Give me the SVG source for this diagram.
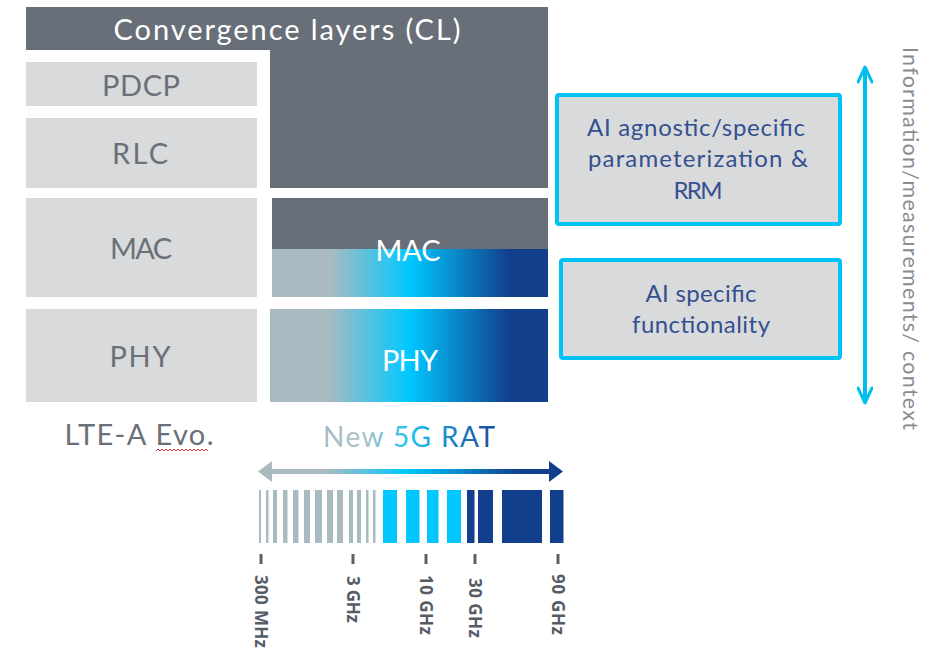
<svg xmlns="http://www.w3.org/2000/svg" width="927" height="651" viewBox="0 0 927 651">
  <defs>
    <linearGradient id="ratGrad" x1="0" y1="0" x2="1" y2="0">
      <stop offset="0" stop-color="#a9bbc1"/>
      <stop offset="0.21" stop-color="#a9bbc1"/>
      <stop offset="0.5" stop-color="#00c8ff"/>
      <stop offset="0.86" stop-color="#123f8c"/>
      <stop offset="1" stop-color="#123f8c"/>
    </linearGradient>
    <linearGradient id="arrowGrad" gradientUnits="userSpaceOnUse" x1="258" y1="0" x2="563" y2="0">
      <stop offset="0" stop-color="#a9bbc1"/>
      <stop offset="0.22" stop-color="#a9bbc1"/>
      <stop offset="0.49" stop-color="#00c8ff"/>
      <stop offset="0.86" stop-color="#123f8c"/>
      <stop offset="1" stop-color="#123f8c"/>
    </linearGradient>
    <linearGradient id="titleGrad" gradientUnits="userSpaceOnUse" x1="323" y1="0" x2="496" y2="0">
      <stop offset="0" stop-color="#a9bbc1"/>
      <stop offset="0.25" stop-color="#a9c0c8"/>
      <stop offset="0.5" stop-color="#1ec2f2"/>
      <stop offset="0.7" stop-color="#1e8fd0"/>
      <stop offset="1" stop-color="#1e4a9a"/>
    </linearGradient>
    <marker id="chev" viewBox="0 0 20 16" refX="17" refY="8" markerWidth="5" markerHeight="4" orient="auto-start-reverse" markerUnits="strokeWidth">
      <path d="M2,1 L17,8 L2,15" fill="none" stroke="#00bfef" stroke-width="3" stroke-linecap="round" stroke-linejoin="round"/>
    </marker>
  </defs>
  <style>
    .light { fill: #d9dadb; }
    .dark { fill: #686f78; }
    .lbl { font-family: "Lato", "Open Sans", "Liberation Sans", sans-serif; font-size: 29px; fill: #6b7078; text-anchor: middle; }
    .wlbl { font-family: "Lato", "Open Sans", "Liberation Sans", sans-serif; font-size: 29px; fill: #ffffff; text-anchor: middle; }
    .ai { fill: #d9dadb; stroke: #00c3f5; stroke-width: 4; }
    .aitxt { font-family: "Lato", "Open Sans", "Liberation Sans", sans-serif; font-size: 24px; fill: #34508f; text-anchor: middle; }
    .bar-g { fill: #a9bbc1; }
    .bar-c { fill: #00c8ff; }
    .bar-n { fill: #123f8c; }
    .tick { stroke: #5a6068; stroke-width: 3; }
    .freq { font-family: "Noto Sans", "DejaVu Sans", sans-serif; font-size: 17px; font-weight: bold; fill: #555c66; }
  </style>

  <!-- Convergence layers block -->
  <g id="cl">
    <path class="dark" d="M26,7 H548 V188 H270 V50 H26 Z"/>
    <text x="287" y="40" class="wlbl" font-size="33" textLength="347" lengthAdjust="spacing">Convergence layers (CL)</text>
  </g>

  <!-- LTE-A Evo. stack -->
  <g id="pdcp">
    <rect class="light" x="26" y="62" width="231" height="44"/>
    <text x="141" y="96" class="lbl" textLength="78" lengthAdjust="spacing">PDCP</text>
  </g>
  <g id="rlc">
    <rect class="light" x="26" y="118" width="231" height="70"/>
    <text x="140" y="164" class="lbl" textLength="56" lengthAdjust="spacing">RLC</text>
  </g>
  <g id="mac-lte">
    <rect class="light" x="26" y="198" width="231" height="99"/>
    <text x="141" y="259" class="lbl" textLength="62" lengthAdjust="spacing">MAC</text>
  </g>
  <g id="phy-lte">
    <rect class="light" x="26" y="309" width="231" height="93"/>
    <text x="140" y="367" class="lbl" textLength="61" lengthAdjust="spacing">PHY</text>
  </g>
  <g id="lte-label">
    <text x="139" y="445" class="lbl" font-size="27" textLength="149" lengthAdjust="spacing">LTE-A Evo.</text>
    <path d="M156,451 l2,-2 l2,2 l2,-2 l2,2 l2,-2 l2,2 l2,-2 l2,2 l2,-2 l2,2 l2,-2 l2,2 l2,-2 l2,2 l2,-2 l2,2 l2,-2 l2,2 l2,-2 l2,2 l2,-2 l2,2 l2,-2 l2,2 l2,-2 l2,2" fill="none" stroke="#e03030" stroke-width="1"/>
  </g>

  <!-- New 5G RAT stack -->
  <g id="mac-5g">
    <rect x="272" y="198" width="276" height="99" fill="url(#ratGrad)"/>
    <rect class="dark" x="272" y="198" width="276" height="51"/>
    <text x="408" y="261" class="wlbl" textLength="65" lengthAdjust="spacing">MAC</text>
  </g>
  <g id="phy-5g">
    <rect x="270" y="309" width="278" height="93" fill="url(#ratGrad)"/>
    <text x="410" y="371" class="wlbl" textLength="56" lengthAdjust="spacing">PHY</text>
  </g>
  <g id="rat-label">
    <text x="409" y="447" font-family="Lato, 'Open Sans', 'Liberation Sans', sans-serif" font-size="28" text-anchor="middle" fill="url(#titleGrad)" textLength="172" lengthAdjust="spacing">New 5G RAT</text>
  </g>

  <!-- AI boxes -->
  <g id="ai-rrm">
    <rect class="ai" x="557" y="95" width="283" height="129" rx="2"/>
    <text x="696" y="136" class="aitxt" textLength="218" lengthAdjust="spacing">AI agnostic/specific</text>
    <text x="698" y="167" class="aitxt" textLength="220" lengthAdjust="spacing">parameterization &amp;</text>
    <text x="698" y="199" class="aitxt" textLength="49" lengthAdjust="spacing">RRM</text>
  </g>
  <g id="ai-func">
    <rect class="ai" x="561" y="260" width="279" height="98" rx="2"/>
    <text x="701" y="302" class="aitxt" textLength="111" lengthAdjust="spacing">AI specific</text>
    <text x="701" y="333" class="aitxt" textLength="138" lengthAdjust="spacing">functionality</text>
  </g>

  <!-- Spectrum bars -->
  <g id="spectrum">
    <rect class="bar-g" x="259" y="490" width="2" height="53"/>
    <rect class="bar-g" x="266" y="490" width="2.5" height="53"/>
    <rect class="bar-g" x="273" y="490" width="4" height="53"/>
    <rect class="bar-g" x="283" y="490" width="4.5" height="53"/>
    <rect class="bar-g" x="293" y="490" width="5.5" height="53"/>
    <rect class="bar-g" x="304" y="490" width="6" height="53"/>
    <rect class="bar-g" x="315" y="490" width="7" height="53"/>
    <rect class="bar-g" x="327" y="490" width="6" height="53"/>
    <rect class="bar-g" x="337" y="490" width="6" height="53"/>
    <rect class="bar-g" x="349" y="490" width="4" height="53"/>
    <rect class="bar-g" x="357" y="490" width="4" height="53"/>
    <rect class="bar-g" x="366" y="490" width="2.5" height="53"/>
    <rect class="bar-g" x="373" y="490" width="2.5" height="53"/>
    <rect class="bar-c" x="383" y="490" width="14" height="53"/>
    <rect class="bar-c" x="406" y="490" width="13.5" height="53"/>
    <rect class="bar-c" x="427" y="490" width="11.5" height="53"/>
    <rect class="bar-c" x="447" y="490" width="14" height="53"/>
    <rect class="bar-n" x="467" y="490" width="7.5" height="53"/>
    <rect class="bar-n" x="478" y="490" width="15" height="53"/>
    <rect class="bar-n" x="502" y="490" width="40" height="53"/>
    <rect class="bar-n" x="550" y="490" width="13.5" height="53"/>
  </g>

  <!-- Frequency scale -->
  <g id="freq-scale">
    <line class="tick" x1="261" y1="554" x2="261" y2="564"/>
    <line class="tick" x1="353" y1="554" x2="353" y2="564"/>
    <line class="tick" x1="426" y1="554" x2="426" y2="564"/>
    <line class="tick" x1="475" y1="554" x2="475" y2="564"/>
    <line class="tick" x1="558" y1="554" x2="558" y2="564"/>
    <text class="freq" transform="translate(255,575) rotate(90)" textLength="73" lengthAdjust="spacing">300 MHz</text>
    <text class="freq" transform="translate(347,576) rotate(90)" textLength="47" lengthAdjust="spacing">3 GHz</text>
    <text class="freq" transform="translate(420,575) rotate(90)" textLength="60" lengthAdjust="spacing">10 GHz</text>
    <text class="freq" transform="translate(469,578) rotate(90)" textLength="60" lengthAdjust="spacing">30 GHz</text>
    <text class="freq" transform="translate(552,574) rotate(90)" textLength="61" lengthAdjust="spacing">90 GHz</text>
  </g>

  <!-- Connectors -->
  <g id="connectors">
    <line x1="270" y1="471.5" x2="551" y2="471.5" stroke="url(#arrowGrad)" stroke-width="5"/>
    <polygon points="258,471.5 272,461 272,482" fill="#a9bbc1"/>
    <polygon points="563,471.5 549,461 549,482" fill="#123f8c"/>
    <line x1="865" y1="67" x2="865" y2="403" stroke="#00bfef" stroke-width="4" marker-start="url(#chev)" marker-end="url(#chev)"/>
  </g>

  <g id="context-label">
    <text transform="translate(903,47) rotate(90)" font-family="Lato, 'Open Sans', 'Liberation Sans', sans-serif" font-size="21.5" fill="#878c92" textLength="383" lengthAdjust="spacing">Information/measurements/ context</text>
  </g>
</svg>
